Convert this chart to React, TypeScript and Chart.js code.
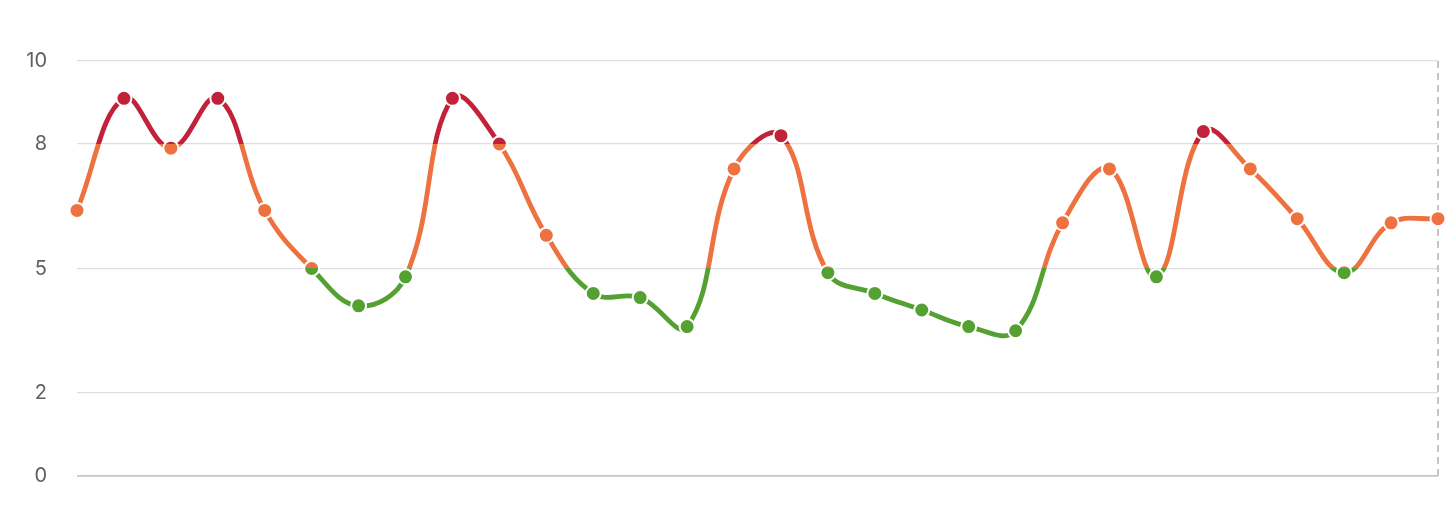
import React, { useEffect, useRef } from "react";
import { Chart, registerables } from "chart.js";

Chart.register(...registerables);

const labels: string[] = [
  "1", "2", "3", "4", "5", "6", "7", "8", "9", "10",
  "11", "12", "13", "14", "15", "16", "17", "18", "19", "20",
  "21", "22", "23", "24", "25", "26", "27", "28", "29", "30",
];

const values: number[] = [
  6.4, 9.1, 7.9, 9.1, 6.4, 5.0, 4.1, 4.8, 9.1, 8.0,
  5.8, 4.4, 4.3, 3.6, 7.4, 8.2, 4.9, 4.4, 4.0, 3.6,
  3.5, 6.1, 7.4, 4.8, 8.3, 7.4, 6.2, 4.9, 6.1, 6.2,
];

const yTicks: number[] = [0, 2, 5, 8, 10];
const highThreshold = 8;
const lowThreshold = 5;

const RED = "#c22239";
const ORANGE = "#ee7140";
const GREEN = "#54a031";

function makeGradient(chart: any) {
  const { ctx, chartArea, scales } = chart;
  if (!chartArea) return ORANGE;
  const y = scales.y;
  const top = y.getPixelForValue(10);
  const bottom = y.getPixelForValue(0);
  const g = ctx.createLinearGradient(0, top, 0, bottom);
  const fHigh = (y.getPixelForValue(highThreshold) - top) / (bottom - top);
  const fLow = (y.getPixelForValue(lowThreshold) - top) / (bottom - top);
  g.addColorStop(0, RED);
  g.addColorStop(fHigh, RED);
  g.addColorStop(fHigh, ORANGE);
  g.addColorStop(fLow, ORANGE);
  g.addColorStop(fLow, GREEN);
  g.addColorStop(1, GREEN);
  return g;
}

const dashedEdge = {
  id: "dashedEdge",
  beforeDatasetsDraw(chart: any) {
    const { ctx, chartArea } = chart;
    ctx.save();
    ctx.strokeStyle = "#b4b4b8";
    ctx.lineWidth = 1.5;
    ctx.setLineDash([7, 5]);
    ctx.beginPath();
    ctx.moveTo(chartArea.right, chartArea.top);
    ctx.lineTo(chartArea.right, chartArea.bottom);
    ctx.stroke();
    ctx.restore();
  },
};

export default function App() {
  const ref = useRef<HTMLCanvasElement | null>(null);

  useEffect(() => {
    if (!ref.current) return;
    const chart = new Chart(ref.current, {
      type: "line",
      data: {
        labels,
        datasets: [
          {
            data: values,
            borderColor: (c: any) => makeGradient(c.chart),
            pointBackgroundColor: (c: any) => makeGradient(c.chart),
            pointBorderColor: "#ffffff",
            pointBorderWidth: 2,
            pointRadius: 7.5,
            borderWidth: 4.8,
            tension: 0.4,
            fill: false,
            clip: false,
          } as any,
        ],
      },
      options: {
        animation: false,
        responsive: false,
        devicePixelRatio: 1,
        layout: { autoPadding: false, padding: { top: 61, right: 16, bottom: 32, left: 0 } },
        plugins: {
          legend: { display: false },
          tooltip: { enabled: false },
          title: { display: false },
        },
        scales: {
          x: {
            type: "category",
            display: false,
            offset: false,
          },
          y: {
            min: 0,
            max: 10,
            afterBuildTicks: (s: any) => {
              s.ticks = yTicks.map((v) => ({ value: v }));
            },
            grid: {
              color: (c: any) => (c.tick && c.tick.value === 0 ? "#c6c6ca" : "#dedee2"),
              lineWidth: (c: any) => (c.tick && c.tick.value === 0 ? 1.8 : 1.2),
              drawTicks: false,
            },
            border: { display: false },
            ticks: {
              padding: 30,
              color: "#5e5e64",
              font: { family: "Inter, 'Liberation Sans', sans-serif", size: 20 },
            },
            afterFit: (s: any) => {
              s.width = 77;
              s.paddingTop = 0;
              s.paddingBottom = 0;
            },
          },
        },
      } as any,
      plugins: [dashedEdge],
    });
    return () => chart.destroy();
  }, []);

  return (
    <div style={{ position: "fixed", left: 0, top: 0, width: 1454, height: 508, background: "#fff" }}>
      <canvas ref={ref} width={1454} height={508} style={{ display: "block", width: 1454, height: 508 }} />
    </div>
  );
}
